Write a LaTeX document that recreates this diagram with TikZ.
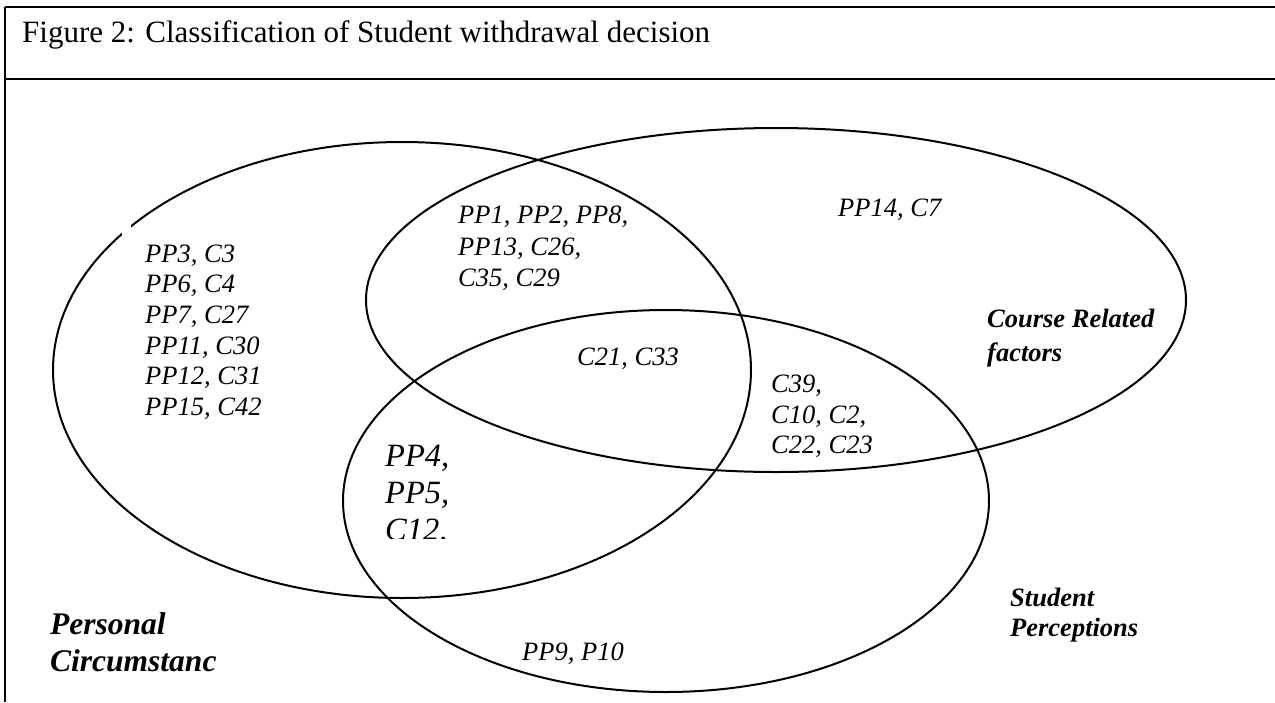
\documentclass[tikz,border=0pt]{standalone}
\usepackage{fontspec}
\setmainfont{Liberation Serif}
\begin{document}
\begin{tikzpicture}[x=1pt,y=-1pt,
  frame/.style={line width=2.2pt},
  venn/.style={line width=2pt},
  lab/.style={anchor=base west,inner sep=0pt,font=\fontsize{26.5}{31}\selectfont\itshape},
  big/.style={anchor=base west,inner sep=0pt,font=\fontsize{32.5}{37}\selectfont\itshape},
  cat/.style={anchor=base west,inner sep=0pt,font=\fontsize{26.5}{31}\selectfont\bfseries\itshape},
  catbig/.style={anchor=base west,inner sep=0pt,font=\fontsize{31.5}{37}\selectfont\bfseries\itshape}]
\useasboundingbox (0,0) rectangle (1275,702);
% frame
\coordinate (tl) at (5,7);
\coordinate (tr) at (1275,7);
\coordinate (ml) at (5,79);
\coordinate (mr) at (1275,79);
\coordinate (bl) at (5,702);
\draw[frame] (tl) -- (tr);
\draw[frame] (ml) -- (mr);
\draw[frame] (tl) -- (bl);
\node[anchor=base west,inner sep=0pt,font=\fontsize{31}{37}\selectfont] (title) at (22,42) {Figure 2: Classification of Student withdrawal decision};
% ellipses
\draw[venn] (402,370) ellipse [x radius=349pt, y radius=228pt];
\draw[venn] (776,300) ellipse [x radius=410pt, y radius=172pt];
\draw[venn] (666,501) ellipse [x radius=323pt, y radius=191pt];
\fill[white] (122,222) rectangle (131,240);
% personal only
\node[lab] (p1) at (145,262) {PP3, C3};
\node[lab] (p2) at (145,292) {PP6, C4};
\node[lab] (p3) at (145,323) {PP7, C27};
\node[lab] (p4) at (145,354) {PP11, C30};
\node[lab] (p5) at (145,384) {PP12, C31};
\node[lab] (p6) at (145,415) {PP15, C42};
% personal & course
\node[lab] (pc1) at (458,223) {PP1, PP2, PP8,};
\node[lab] (pc2) at (458,255) {PP13, C26,};
\node[lab] (pc3) at (458,286) {C35, C29};
% course only
\node[lab] (c1) at (838,216) {PP14, C7};
% all three
\node[lab] (all) at (577,365) {C21, C33};
% course & student
\node[lab] (cs1) at (771,392) {C39,};
\node[lab] (cs2) at (771,423) {C10, C2,};
\node[lab] (cs3) at (771,453) {C22, C23};
% personal & student
\node[big] (ps1) at (385,466) {PP4,};
\node[big] (ps2) at (385,503) {PP5,};
\begin{scope}
\clip (370,510) rectangle (470,538);
\node[big] (ps3) at (385,540) {C12,};
\end{scope}
% student only
\node[lab] (s1) at (522,660) {PP9, P10};
% category labels
\node[cat] (course1) at (987,327) {Course Related};
\node[cat] (course2) at (987,361) {factors};
\node[cat] (stud1) at (1010,606) {Student};
\node[cat] (stud2) at (1010,636) {Perceptions};
\node[catbig] (pers1) at (50,634) {Personal};
\node[catbig] (pers2) at (50,671) {Circumstanc};
\end{tikzpicture}
\end{document}
